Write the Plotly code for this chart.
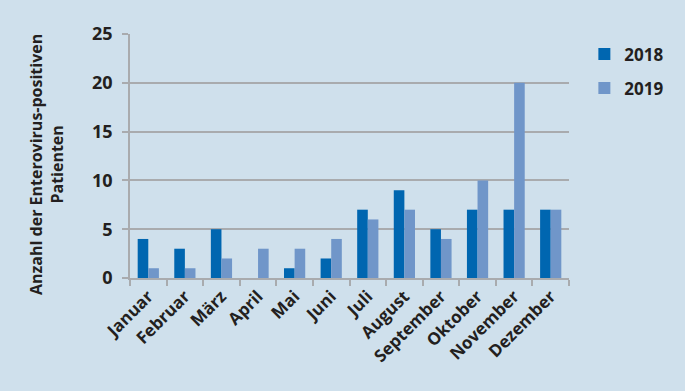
import plotly.graph_objects as go

months = ["Januar", "Februar", "März", "April", "Mai", "Juni", "Juli",
          "August", "September", "Oktober", "November", "Dezember"]
values_2018 = [4, 3, 5, 0, 1, 2, 7, 9, 5, 7, 7, 7]
values_2019 = [1, 1, 2, 3, 3, 4, 6, 7, 4, 10, 20, 7]
y_ticks = [0, 5, 10, 15, 20, 25]
y_title = "Anzahl der Enterovirus-positiven<br>Patienten"

bg = "#cfe0ec"
grid = "#a9abae"
txt = "#231f20"
font_family = "Open Sans"

fig = go.Figure()
fig.add_trace(go.Bar(x=months, y=values_2018, name="2018", legendgroup="a",
                     marker=dict(color="#0066b0", line=dict(width=0))))
fig.add_trace(go.Bar(x=months, y=values_2019, name="2019", legendgroup="b",
                     marker=dict(color="#7096c9", line=dict(width=0))))

fig.update_layout(
    width=685, height=391,
    paper_bgcolor=bg, plot_bgcolor=bg,
    margin=dict(l=130, r=116, t=34, b=113),
    barmode="group", bargap=0.42, bargroupgap=0,
    font=dict(family=font_family, color=txt, size=14),
    showlegend=True,
    legend=dict(x=1.035, y=0.99, xanchor="left", yanchor="top",
                font=dict(size=17, family=font_family, color=txt, weight="bold"),
                bgcolor="rgba(0,0,0,0)", tracegroupgap=9, traceorder="grouped",
                itemwidth=30),
    annotations=[dict(
        text=y_title, xref="paper", yref="paper",
        x=(46 - 130) / 439, y=(278 - 165) / 244,
        xanchor="center", yanchor="middle", textangle=-90, showarrow=False,
        font=dict(size=16, family=font_family, color=txt, weight="bold"),
        align="center",
    )],
)
fig.update_xaxes(
    showline=True, linecolor=grid, linewidth=1.5,
    ticks="outside", tickson="boundaries", ticklen=6, tickcolor=grid, tickwidth=1.5,
    tickangle=-45, showgrid=False,
    tickfont=dict(size=17, family=font_family, color=txt, weight="bold"),
)
fig.update_yaxes(
    range=[0, 25], tickvals=y_ticks,
    showline=True, linecolor=grid, linewidth=1.5,
    showgrid=True, gridcolor=grid, gridwidth=1.5,
    ticks="outside", ticklen=6, tickcolor=grid, tickwidth=1.5,
    ticklabelstandoff=6,
    tickfont=dict(size=18, family=font_family, color=txt, weight="bold"),
    zeroline=False,
)

fig.write_html(
    "out.html",
    config={"displayModeBar": False},
    post_script="document.body.style.margin='0';document.body.style.background='#cfe0ec';",
)
